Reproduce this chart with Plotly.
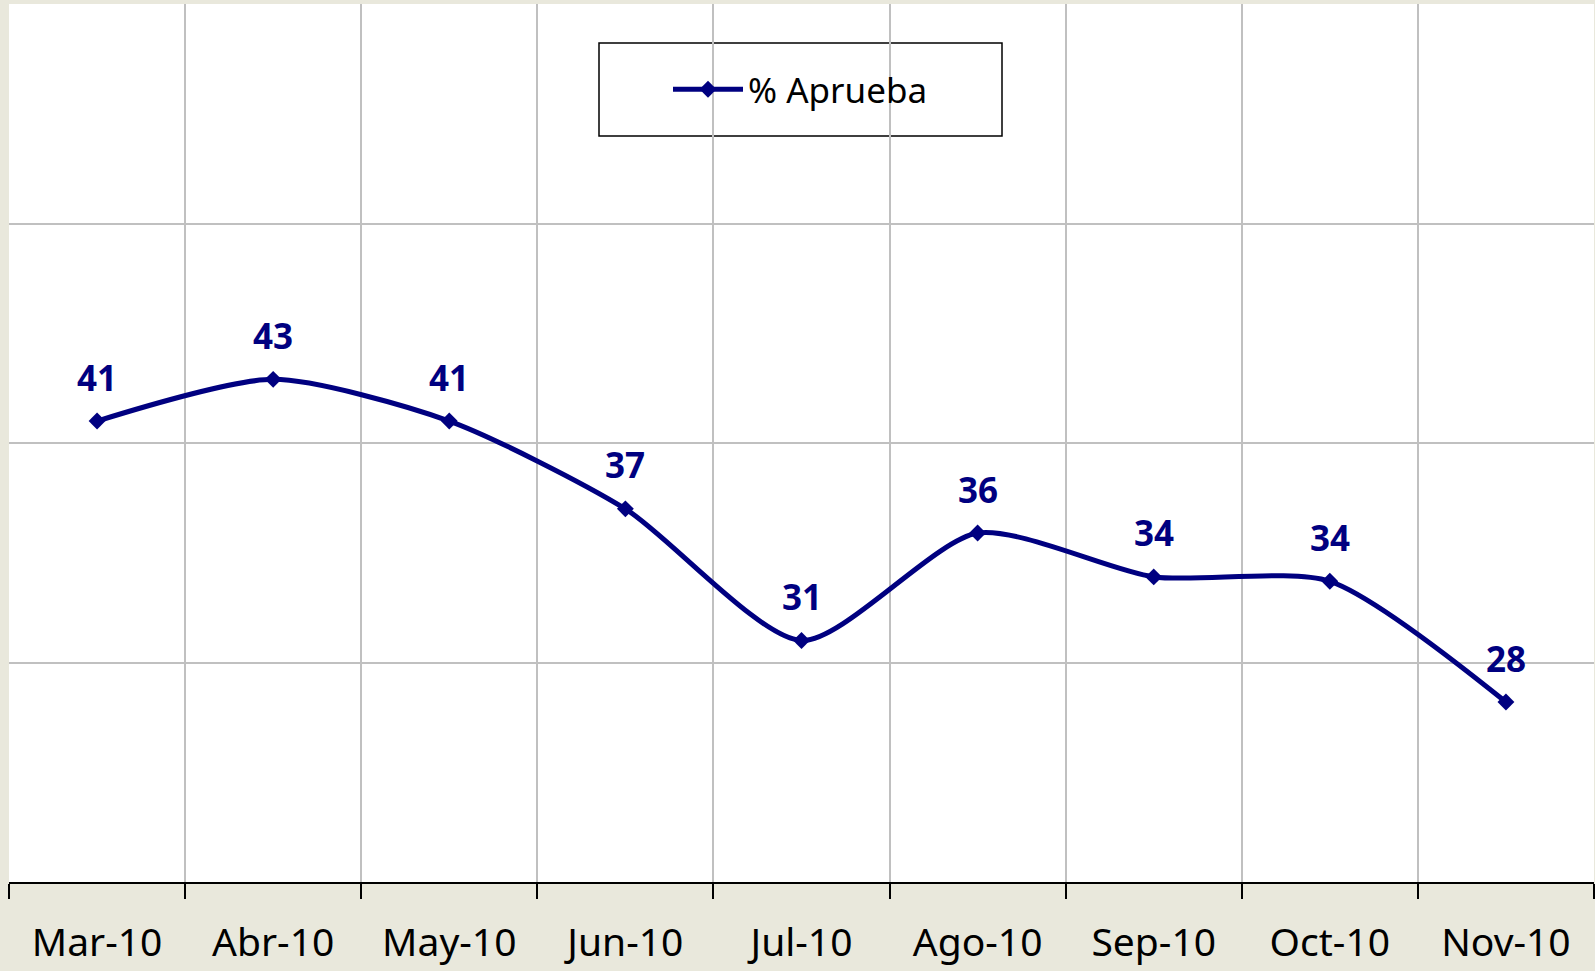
import plotly.graph_objects as go

months = ["Mar-10", "Abr-10", "May-10", "Jun-10", "Jul-10", "Ago-10", "Sep-10", "Oct-10", "Nov-10"]
aprueba = [41.0, 42.9, 41.0, 37.0, 31.0, 35.9, 33.9, 33.7, 28.2]
series_name = "% Aprueba"

NAVY = "#000080"
BG = "#E9E8DC"
FONT = "Noto Sans"

fig = go.Figure()
fig.add_trace(go.Scatter(
    x=months, y=aprueba, name=series_name, mode="lines+markers",
    line=dict(color=NAVY, width=5, shape="spline", smoothing=0.7),
    marker=dict(symbol="diamond", size=13, color=NAVY),
))

for m, v in zip(months, aprueba):
    fig.add_annotation(x=m, y=v, text=f"<b>{round(v)}</b>", showarrow=False,
                       yshift=44, font=dict(family=FONT, size=35, color=NAVY))

PW = 1595 - 9 - 1
# legend box border
fig.add_shape(type="rect", xref="paper", yref="paper",
              x0=(599 - 9) / PW, x1=(1002 - 9) / PW,
              y0=(882 - 136) / 878, y1=(882 - 43) / 878,
              line=dict(color="black", width=1.5), fillcolor="white", layer="below")

fig.update_layout(
    width=1595, height=971,
    margin=dict(l=9, r=1, t=4, b=89, autoexpand=False),
    paper_bgcolor=BG, plot_bgcolor="white",
    showlegend=True,
    legend=dict(x=(800.5 - 9) / PW, xanchor="center", y=(882 - 89.5) / 878, yanchor="middle",
                bgcolor="rgba(0,0,0,0)", borderwidth=0,
                font=dict(family=FONT, size=35, color="black"), itemwidth=70),
    xaxis=dict(
        type="category", tickson="boundaries", ticks="outside", ticklen=15,
        tickwidth=1.5, tickcolor="black", showline=True, linecolor="black", linewidth=1.5,
        showgrid=True, gridcolor="#C0C0C0", gridwidth=1.5,
        tickfont=dict(family=FONT, size=39, color="black"),
        ticklabelstandoff=25, automargin=False,
        range=[-0.5, 8.5],
    ),
    yaxis=dict(
        range=[20, 60], dtick=10, showticklabels=False, showgrid=True,
        gridcolor="#C0C0C0", gridwidth=1.5, zeroline=False, showline=False,
        automargin=False,
    ),
)

fig.write_html("out.html", config={"displayModeBar": False},
               post_script="document.body.style.margin='0';document.body.style.background='#E9E8DC';")
